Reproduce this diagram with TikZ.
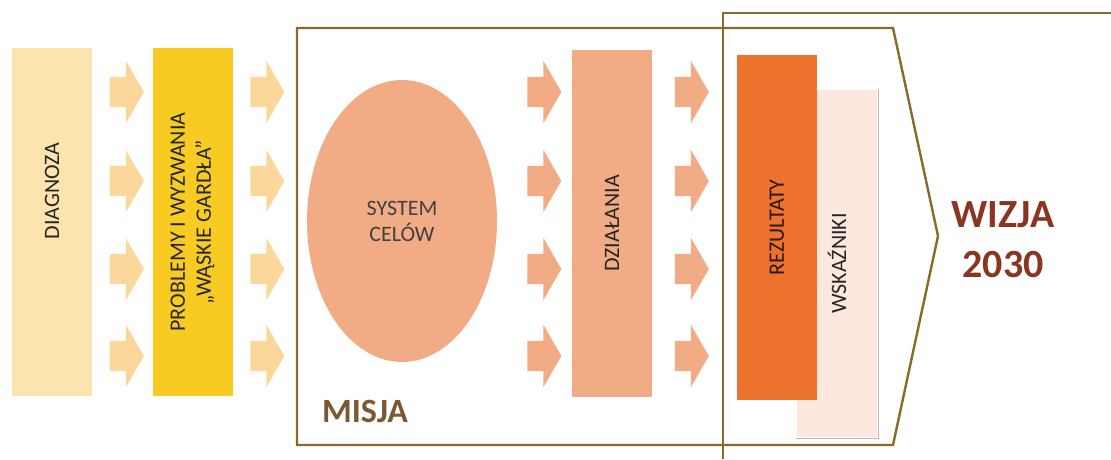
\documentclass[tikz,border=0pt]{standalone}
\usepackage{fontspec}
\setmainfont{Carlito}
\usepackage{xcolor}
\usepackage{tikz}
\usetikzlibrary{shapes.geometric,shapes.arrows}
\usetikzlibrary{positioning}

\definecolor{diagfill}{HTML}{FCE4AE}
\definecolor{problfill}{HTML}{F8CB22}
\definecolor{paleflow}{HTML}{FCD79C}
\definecolor{salmon}{HTML}{F2AC85}
\definecolor{rezfill}{HTML}{EC722E}
\definecolor{wskfill}{HTML}{FDE8DF}
\definecolor{frame}{HTML}{8A6A28}
\definecolor{misjatext}{HTML}{7A5830}
\definecolor{wizjatext}{HTML}{8A3520}

\begin{document}
\begin{tikzpicture}[x=1pt,y=-1pt,line width=2.4pt]
 				 \tikzstyle{every node}=[font=\fontsize{22}{26}\selectfont, text=black!85]
 				 \tikzstyle{stage}=[rectangle, rotate=90, minimum width=348pt, minimum height=80pt, inner sep=0pt, align=center]
 				 \tikzstyle{flow}=[single arrow, single arrow head extend=16pt, single arrow tip angle=120, minimum height=34pt, inner xsep=0pt, inner ysep=14pt]
 				 \useasboundingbox (0,0) rectangle (1111,459);

 					 % frames
 					 \draw[frame] (1111,13) -- (723,13) -- (723,459);
 					 \draw[frame] (297,28) -- (893,28) -- (938,236) -- (893,445) -- (297,445) -- cycle;

 					 \node[stage, fill=diagfill]  (diag)  at (52,222)    {\hspace*{62pt}DIAGNOZA};
 					 \node[stage, fill=problfill] (probl) at (192.5,222) {PROBLEMY I WYZWANIA\\„WĄSKIE GARDŁA”};
 					 \node[ellipse, fill=salmon, minimum width=190pt, minimum height=282pt, inner sep=0pt, align=center, text=black!75]
 					 			(cele) at (402,221) {SYSTEM\\CELÓW};
 					 \node[stage, fill=salmon, minimum width=347pt] (dzial) at (612,223.5) {DZIAŁANIA};
 					 \node[stage, fill=wskfill, minimum width=347pt] (wsk) at (837,263.5) {WSKAŹNIKI};
 					 \draw[gray!55, line width=1pt] (wsk.south east) -- (wsk.south west) -- (wsk.north west);
 					 \node[stage, fill=rezfill, minimum width=345pt, text=black!80!brown] (rez) at (777,227.5) {REZULTATY};

 					 % arrows between the columns
 					 \foreach \y [count=\i] in {92,181,269,356} {
 					 	\node[flow, fill=paleflow] (fa\i) at (122.5,\y) {};
 					 	\node[flow, fill=paleflow] (fb\i) at (263,\y) {};
 					 	\node[flow, fill=salmon]   (fc\i) at (540,\y) {};
 					 	\node[flow, fill=salmon]   (fd\i) at (687.5,\y) {};
 					 }

 					 \node[font=\fontsize{34}{38}\selectfont\bfseries, text=misjatext] (misja) at (365,411) {MISJA};
 					 \node[font=\fontsize{40}{50}\selectfont\bfseries, text=wizjatext, align=center] (wizja) at (1003,240) {WIZJA\\2030};
\end{tikzpicture}
\end{document}
